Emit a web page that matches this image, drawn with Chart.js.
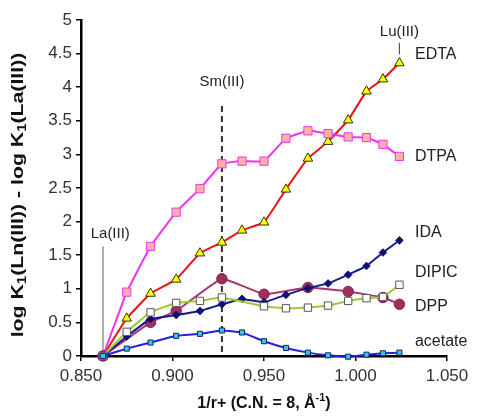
<!DOCTYPE html>
<html>
<head>
<meta charset="utf-8">
<script src="https://cdn.jsdelivr.net/npm/chart.js@4.4.1/dist/chart.umd.min.js"></script>
<style>
  html, body { margin: 0; padding: 0; background: #fff; }
  canvas { display: block; }
</style>
</head>
<body>
<canvas id="lnChart" width="477" height="416"></canvas>
<script>
// lanthanide positions, 1/r+ for C.N. = 8
const ions = ['La', 'Ce', 'Pr', 'Nd', 'Pm', 'Sm', 'Eu', 'Gd', 'Tb', 'Dy', 'Ho', 'Er', 'Tm', 'Yb', 'Lu'];
const invRadius = [0.862, 0.875, 0.888, 0.902, 0.915, 0.927, 0.938, 0.950, 0.962, 0.974, 0.985, 0.996, 1.006, 1.015, 1.024];

// log K1(Ln) - log K1(La), null = no point
const edtaVals = [0, 0.56, 0.93, 1.14, 1.53, 1.69, 1.87, 1.99, 2.48, 2.94, 3.19, 3.51, 3.94, 4.12, 4.36];
const dtpaVals = [0, 0.95, 1.63, 2.14, 2.49, 2.86, 2.90, 2.90, 3.24, 3.35, 3.31, 3.26, 3.25, 3.15, 2.97];
const idaVals = [0, 0.29, 0.55, 0.61, 0.67, 0.77, 0.85, 0.80, 0.91, 1.01, 1.08, 1.21, 1.34, 1.54, 1.72];
const dipicVals = [0, 0.36, 0.65, 0.79, 0.82, 0.87, null, 0.74, 0.71, 0.72, 0.75, 0.82, 0.86, 0.88, 1.06];
const dppVals = [0, null, 0.50, 0.67, null, 1.15, null, 0.92, null, 1.02, null, 0.96, null, 0.87, 0.77];
const acetateVals = [0, 0.11, 0.20, 0.30, 0.33, 0.38, 0.35, 0.22, 0.12, 0.05, 0.01, -0.01, 0.02, 0.04, 0.05];

// text next to the curves (x, y in data units)
const seriesNames = ['EDTA', 'DTPA', 'IDA', 'DIPIC', 'DPP', 'acetate'];
const nameY = [4.48, 2.97, 1.83, 1.24, 0.73, 0.21];
const nameX = 1.0325;

// marker ions
const markIons = ['La(III)', 'Sm(III)', 'Lu(III)'];
const markX = [0.862, 0.927, 1.024];

function pts(vals) {
  return vals.map((v, i) => ({ x: invRadius[i], y: v })).filter(p => p.y !== null);
}

function series(vals, line, style, radius, fill, border) {
  return {
    data: pts(vals),
    showLine: true,
    borderColor: line,
    borderWidth: 2,
    pointStyle: style,
    pointRadius: radius,
    pointHoverRadius: radius,
    pointBackgroundColor: fill,
    pointBorderColor: border,
    pointBorderWidth: 1,
    tension: 0.1,
    clip: false
  };
}

const FONT = '"Liberation Sans", Arial, sans-serif';

// labels, guide lines and axis titles
const decor = {
  id: 'decor',
  beforeDatasetsDraw(chart) {
    const ctx = chart.ctx;
    const xs = chart.scales.x, ys = chart.scales.y;
    ctx.save();
    // La(III) thin line
    let px = xs.getPixelForValue(markX[0]);
    ctx.strokeStyle = '#777';
    ctx.lineWidth = 1.2;
    ctx.beginPath();
    ctx.moveTo(px, ys.getPixelForValue(1.63));
    ctx.lineTo(px, ys.getPixelForValue(0));
    ctx.stroke();
    // Sm(III) dashed line
    px = xs.getPixelForValue(markX[1]);
    ctx.strokeStyle = '#333';
    ctx.lineWidth = 2;
    ctx.setLineDash([6, 4]);
    ctx.beginPath();
    ctx.moveTo(px, ys.getPixelForValue(3.72));
    ctx.lineTo(px, ys.getPixelForValue(0));
    ctx.stroke();
    ctx.setLineDash([]);
    // Lu(III) short tick
    px = xs.getPixelForValue(markX[2]);
    ctx.strokeStyle = '#555';
    ctx.lineWidth = 1.2;
    ctx.beginPath();
    ctx.moveTo(px, ys.getPixelForValue(4.66));
    ctx.lineTo(px, ys.getPixelForValue(4.49));
    ctx.stroke();
    ctx.restore();
  },
  afterDraw(chart) {
    const ctx = chart.ctx;
    const xs = chart.scales.x, ys = chart.scales.y;
    ctx.save();
    ctx.fillStyle = '#222';
    ctx.textBaseline = 'middle';
    ctx.textAlign = 'center';
    ctx.font = '15px ' + FONT;
    ctx.fillText(markIons[0], xs.getPixelForValue(0.866), ys.getPixelForValue(1.82));
    ctx.fillText(markIons[1], xs.getPixelForValue(markX[1]), ys.getPixelForValue(4.08));
    ctx.fillText(markIons[2], xs.getPixelForValue(markX[2]), ys.getPixelForValue(4.83));

    ctx.textAlign = 'left';
    ctx.font = '16px ' + FONT;
    seriesNames.forEach((n, i) => {
      ctx.fillText(n, xs.getPixelForValue(nameX), ys.getPixelForValue(nameY[i]));
    });

    // x title with superscript
    ctx.fillStyle = '#111';
    const mainX = '1/r+ (C.N. = 8, \u00C5';
    ctx.font = 'bold 16px ' + FONT;
    const w1 = ctx.measureText(mainX).width;
    const w3 = ctx.measureText(')').width;
    ctx.font = 'bold 11px ' + FONT;
    const w2 = ctx.measureText('-1').width;
    let tx = (xs.left + xs.right) / 2 - (w1 + w2 + w3) / 2;
    const ty = 404;
    ctx.font = 'bold 16px ' + FONT;
    ctx.fillText(mainX, tx, ty);
    ctx.font = 'bold 11px ' + FONT;
    ctx.fillText('-1', tx + w1, ty - 6);
    ctx.font = 'bold 16px ' + FONT;
    ctx.fillText(')', tx + w1 + w2, ty);

    // y title with subscripts, rotated
    const parts = [['log K', 0], ['1', 1], ['(Ln(III)) - log K', 0], ['1', 1], ['(La(III))', 0]];
    const big = 'bold 17px ' + FONT, small = 'bold 12px ' + FONT;
    let total = 0;
    parts.forEach(p => { ctx.font = p[1] ? small : big; total += ctx.measureText(p[0]).width; });
    ctx.translate(18, 195);
    ctx.rotate(-Math.PI / 2);
    ctx.scale(1.25, 1);
    let cx = -total / 2;
    parts.forEach(p => {
      ctx.font = p[1] ? small : big;
      ctx.fillText(p[0], cx, p[1] ? 5 : 0);
      cx += ctx.measureText(p[0]).width;
    });
    ctx.restore();
  }
};

const tickFont = { family: FONT, size: 17 };

new Chart(document.getElementById('lnChart').getContext('2d'), {
  type: 'scatter',
  data: {
    datasets: [
      series(acetateVals, '#2222dd', 'rect', 3.6, '#33cccc', '#1a1a80'),
      series(dipicVals, '#99cc33', 'rect', 5.2, '#ffffff', '#555555'),
      series(idaVals, '#1a1a88', 'rectRot', 3.8, '#10107a', '#10107a'),
      series(dppVals, '#a8386a', 'circle', 5.2, '#a0305a', '#80204a'),
      series(dtpaVals, '#ee33ee', 'rect', 5.8, '#ffb3a0', '#ee33ee'),
      series(edtaVals, '#ee1111', 'triangle', 5.5, '#ffff00', '#333300')
    ]
  },
  options: {
    responsive: false,
    animation: false,
    devicePixelRatio: 1,
    layout: { padding: { top: 20, right: 30, left: 0, bottom: 0 } },
    plugins: { legend: { display: false }, tooltip: { enabled: false } },
    scales: {
      x: {
        type: 'linear',
        min: 0.85,
        max: 1.05,
        afterFit: s => { s.height = 60; },
        afterBuildTicks: s => {
          s.ticks = [0.85, 0.9, 0.95, 1.0, 1.05].map(v => ({ value: v }));
        },
        ticks: {
          callback: v => v.toFixed(3),
          font: tickFont,
          color: '#333',
          padding: 5,
          maxRotation: 0
        },
        grid: { display: true, drawOnChartArea: false, drawTicks: true, tickLength: 5, color: '#000', lineWidth: 1.5 },
        border: { display: true, color: '#000', width: 2.5 }
      },
      y: {
        min: 0,
        max: 5,
        afterFit: s => { s.width = 81; },
        ticks: {
          stepSize: 0.5,
          callback: v => String(Math.round(v * 10) / 10),
          font: tickFont,
          color: '#333',
          padding: 4
        },
        grid: { display: true, drawOnChartArea: false, drawTicks: true, tickLength: 5, color: '#000', lineWidth: 1.5 },
        border: { display: true, color: '#000', width: 2.5 }
      }
    }
  },
  plugins: [decor]
});
</script>
</body>
</html>
